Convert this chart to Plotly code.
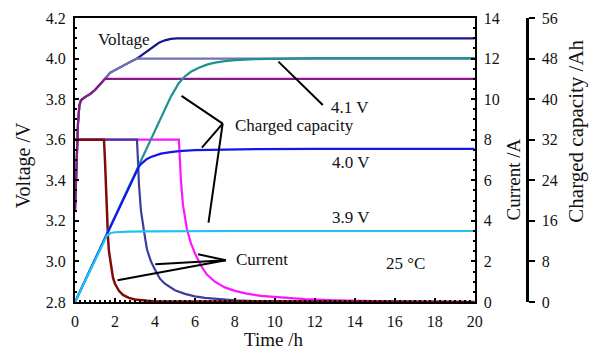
import plotly.graph_objects as go

# ---------------- data ----------------
# Terminal voltage (V) during CC-CV charging at three cut-off voltages
t_v39 = [0, 0.05, 0.1, 0.15, 0.22, 0.3, 0.5, 0.75, 1.0, 1.25, 1.5, 20]
v_39 = [3.25, 3.40, 3.55, 3.68, 3.77, 3.795, 3.81, 3.825, 3.845, 3.87, 3.9, 3.9]

t_v40 = [0, 0.05, 0.1, 0.15, 0.22, 0.3, 0.5, 0.75, 1.0, 1.25, 1.5, 1.75, 2.2, 2.7, 3.1, 20]
v_40 = [3.25, 3.40, 3.55, 3.68, 3.77, 3.795, 3.81, 3.825, 3.845, 3.87, 3.9, 3.93, 3.955, 3.98, 4.0, 4.0]

t_v41 = [0, 0.05, 0.1, 0.15, 0.22, 0.3, 0.5, 0.75, 1.0, 1.25, 1.5, 1.75, 2.2, 2.7, 3.1,
         3.5, 3.9, 4.2, 4.5, 4.8, 5.1, 20]
v_41 = [3.25, 3.40, 3.55, 3.68, 3.77, 3.795, 3.81, 3.825, 3.845, 3.87, 3.9, 3.93, 3.955, 3.98, 4.0,
        4.03, 4.06, 4.078, 4.09, 4.097, 4.1, 4.1]

# Charging current (A)
t_i39 = [0, 1.45, 1.5, 1.55, 1.6, 1.65, 1.7, 1.8, 1.9, 2.0, 2.2, 2.4, 2.7, 3.0, 3.5, 4.0, 20]
i_39 = [8, 8, 7.0, 5.5, 4.2, 3.2, 2.5, 1.7, 1.2, 0.9, 0.55, 0.35, 0.2, 0.12, 0.06, 0.03, 0]

t_i40 = [0, 3.1, 3.15, 3.2, 3.3, 3.4, 3.5, 3.6, 3.8, 4.0, 4.25, 4.5, 5.0, 5.5, 6.0, 6.5,
         7.0, 8.0, 9.0, 10, 20]
i_40 = [8, 8, 7.0, 5.8, 4.5, 3.7, 3.2, 2.6, 2.0, 1.6, 1.15, 0.9, 0.58, 0.4, 0.28, 0.2,
        0.15, 0.08, 0.05, 0.03, 0]

t_i41 = [0, 5.2, 5.25, 5.3, 5.4, 5.5, 5.6, 5.8, 6.0, 6.3, 6.6, 7.0, 7.5, 8.0, 8.6, 9.3,
         10.3, 11.5, 13, 15, 20]
i_41 = [8, 8, 7.0, 6.0, 4.8, 4.1, 3.6, 2.9, 2.4, 1.8, 1.35, 1.0, 0.72, 0.55, 0.41, 0.3,
        0.22, 0.14, 0.08, 0.04, 0]

# Charged capacity (Ah)
t_c39 = [0, 1.5, 1.6, 1.7, 1.8, 2.0, 2.3, 2.7, 3.5, 5, 8, 20]
c_39 = [0, 12.6, 13.1, 13.4, 13.6, 13.75, 13.82, 13.87, 13.92, 13.96, 14.0, 14.0]

t_c40 = [0, 1.5, 3.1, 3.2, 3.3, 3.45, 3.6, 3.8, 4.0, 4.3, 4.7, 5.2, 6, 7, 9, 12, 20]
c_40 = [0, 12.6, 26.0, 26.7, 27.2, 27.8, 28.2, 28.6, 28.9, 29.25, 29.5, 29.75, 29.95,
        30.05, 30.15, 30.2, 30.2]

t_c41 = [0, 1.5, 3.1, 4.0, 4.8, 5.2, 5.5, 5.8, 6.2, 6.6, 7.0, 7.5, 8.0, 9.0, 10, 11, 12, 14, 20]
c_41 = [0, 12.6, 26.0, 33.7, 40.5, 43.2, 44.5, 45.4, 46.2, 46.8, 47.2, 47.5, 47.7, 47.9,
        48.0, 48.05, 48.1, 48.1, 48.1]

x_ticks = [0, 2, 4, 6, 8, 10, 12, 14, 16, 18, 20]
v_ticks = [2.8, 3.0, 3.2, 3.4, 3.6, 3.8, 4.0, 4.2]
i_ticks = [0, 2, 4, 6, 8, 10, 12, 14]
c_ticks = [0, 8, 16, 24, 32, 40, 48, 56]

# ---------------- styling ----------------
FONT = "Liberation Serif"
W, H = 597, 354
ML, MR, MT, MB = 75, 10, 17, 52
PW = W - ML - MR
PH = H - MT - MB
X_RIGHT = 481  # right edge of the framed plot
CAP_AXIS_X = 534


def px_x(px):
    return (px - ML) / PW


def px_y(py):
    return (H - MB - py) / PH


fig = go.Figure()


def add(x, y, color, axis, width=2.2):
    fig.add_trace(go.Scatter(x=x, y=y, mode="lines", yaxis=axis,
                             line=dict(color=color, width=width),
                             hoverinfo="skip", showlegend=False))


# capacity curves (drawn bottom to top: 4.1 V, 4.0 V, 3.9 V)
add(t_c41, c_41, "#1f9290", "y3")
add(t_c40, c_40, "#1414f0", "y3")
add(t_c39, c_39, "#1ec3f2", "y3")

# voltage curves
add(t_v41, v_41, "#16168a", "y")
add(t_v40, v_40, "#7272b2", "y")
add(t_v39, v_39, "#8a1a8a", "y")

# current curves
add(t_i41, i_41, "#ff14ff", "y2")
add(t_i40, i_40, "#3c3c9c", "y2")
add(t_i39, i_39, "#820a0a", "y2", width=2.5)

# leader lines (in time / voltage coordinates)
leaders = [
    ((10.18, 3.985), (12.40, 3.771)),
    ((7.39, 3.679), (5.33, 3.816)),
    ((7.39, 3.679), (6.35, 3.561)),
    ((7.39, 3.679), (6.68, 3.191)),
    ((7.55, 3.006), (6.16, 3.035)),
    ((7.55, 3.006), (4.02, 2.986)),
    ((7.55, 3.006), (2.13, 2.907)),
]
for (x0, y0), (x1, y1) in leaders:
    fig.add_shape(type="line", xref="x", yref="y", x0=x0, y0=y0, x1=x1, y1=y1,
                  line=dict(color="black", width=2))

labels = [
    ("Voltage", 2.46, 4.095),
    ("4.1 V", 13.78, 3.758),
    ("Charged capacity", 10.97, 3.668),
    ("4.0 V", 13.79, 3.487),
    ("3.9 V", 13.79, 3.219),
    ("Current", 9.38, 3.011),
    ("25 °C", 16.55, 2.988),
]
for txt, x, y in labels:
    fig.add_annotation(text=txt, x=x, y=y, xref="x", yref="y", showarrow=False,
                       xanchor="center", yanchor="middle",
                       font=dict(family=FONT, size=17, color="#111"))

# axis titles
titles = [
    ("Voltage /V", 23, 165, -90, 20),
    ("Current /A", 520, 179, -90, 19),
    ("Charged capacity /Ah", 584, 131, -90, 21),
    ("Time /h", 277, 340, 0, 19),
]
for txt, px, py, ang, sz in titles:
    fig.add_annotation(text=txt, x=px_x(px), y=px_y(py), xref="paper", yref="paper",
                       showarrow=False, textangle=ang, xanchor="center", yanchor="middle",
                       font=dict(family=FONT, size=sz, color="#111"))

tickfont = dict(family=FONT, size=16, color="#111")
x_dom = (X_RIGHT - ML) / PW

fig.update_layout(
    width=W, height=H,
    margin=dict(l=ML, r=MR, t=MT, b=MB),
    plot_bgcolor="white", paper_bgcolor="white",
    showlegend=False,
    xaxis=dict(domain=[0, x_dom], range=[0, 20], tickvals=x_ticks,
               ticks="inside", ticklen=4, tickwidth=1.5, tickcolor="black",
               minor=dict(ticks="inside", ticklen=2, dtick=0.25, tickcolor="black"),
               showline=True, linecolor="black", linewidth=2, mirror=True,
               showgrid=False, zeroline=False, tickfont=tickfont, ticklabelstandoff=4),
    yaxis=dict(range=[2.8, 4.2], tickvals=v_ticks, tickformat=".1f",
               ticks="inside", ticklen=4, tickwidth=1.5, tickcolor="black",
               minor=dict(ticks="inside", ticklen=2, dtick=0.05, tickcolor="black"),
               showline=True, linecolor="black", linewidth=2,
               showgrid=False, zeroline=False, tickfont=tickfont, ticklabelstandoff=4),
    yaxis2=dict(range=[0, 14], tickvals=i_ticks, overlaying="y", side="right", anchor="x",
                ticks="inside", ticklen=4, tickwidth=1.5, tickcolor="black",
                minor=dict(ticks="inside", ticklen=2, dtick=0.5, tickcolor="black"),
                showline=True, linecolor="black", linewidth=2,
                showgrid=False, zeroline=False, tickfont=tickfont, ticklabelstandoff=4),
    yaxis3=dict(range=[0, 56], tickvals=c_ticks, overlaying="y", side="right",
                anchor="free", position=px_x(CAP_AXIS_X),
                ticks="outside", ticklen=6, tickwidth=2, tickcolor="black",
                showline=True, linecolor="black", linewidth=2.5,
                showgrid=False, zeroline=False, tickfont=tickfont, ticklabelstandoff=4),
)

fig.write_html("out.html")
